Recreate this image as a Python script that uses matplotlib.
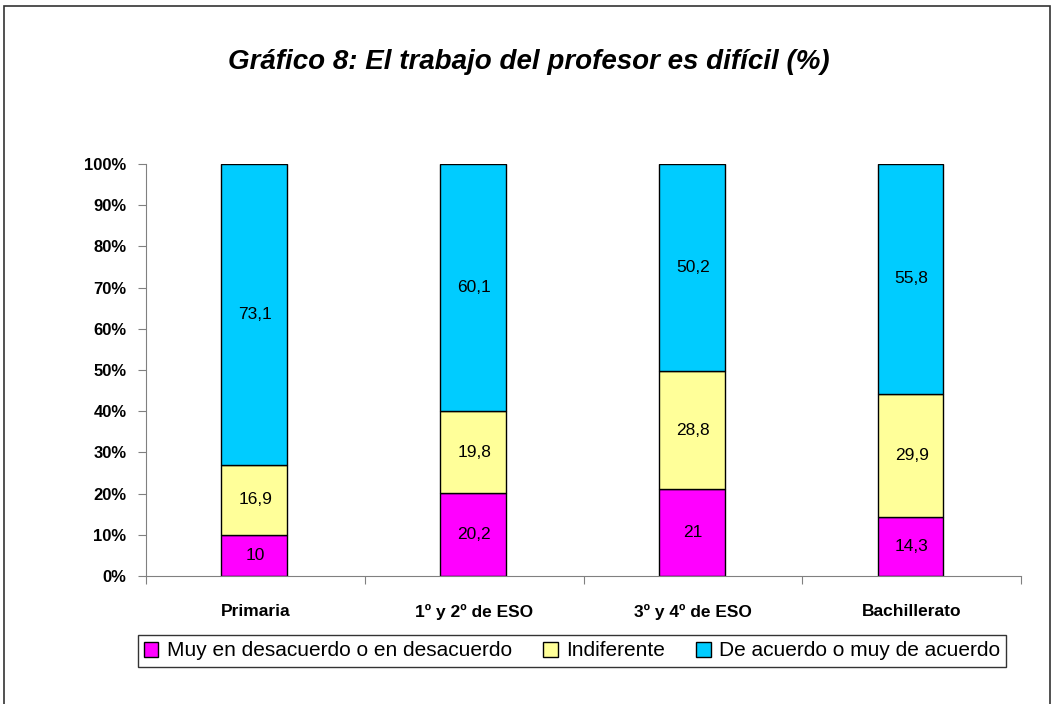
import numpy as np
import matplotlib.pyplot as plt
from matplotlib.patches import Rectangle

plt.rcParams['font.family'] = ['Liberation Sans', 'DejaVu Sans']

# data
categories = ['Primaria', '1º y 2º de ESO', '3º y 4º de ESO', 'Bachillerato']
series_names = ['Muy en desacuerdo o en desacuerdo', 'Indiferente',
                'De acuerdo o muy de acuerdo']
desacuerdo = [10, 20.2, 21, 14.3]
indiferente = [16.9, 19.8, 28.8, 29.9]
acuerdo = [73.1, 60.1, 50.2, 55.8]
labels = [['10', '20,2', '21', '14,3'],
          ['16,9', '19,8', '28,8', '29,9'],
          ['73,1', '60,1', '50,2', '55,8']]
colors = ['#FF00FF', '#FFFF99', '#00CCFF']

fig = plt.figure(figsize=(10.58, 7.04), dpi=100)
ax = fig.add_axes([146 / 1058, 1 - 576 / 704, 875 / 1058, 412 / 704])

# outer frame
fig.patches.append(Rectangle((4 / 1058, -0.01), 1046 / 1058, 1 - 6 / 704 + 0.01,
                             transform=fig.transFigure, fill=False,
                             edgecolor='#333333', linewidth=1.2))

series = np.array([desacuerdo, indiferente, acuerdo])
pct = series / series.sum(axis=0) * 100
x = np.arange(len(categories))
bottom = np.zeros(len(categories))
for i in range(3):
    ax.bar(x - 0.005, pct[i], 0.30, bottom=bottom, color=colors[i],
           edgecolor='black', linewidth=1, label=series_names[i])
    for j in range(len(categories)):
        ax.text(x[j], bottom[j] + pct[i][j] / 2, labels[i][j],
                ha='center', va='center', fontsize=12.5)
    bottom += pct[i]

ax.set_xlim(-0.5, len(categories) - 0.5)
ax.set_ylim(0, 100)
ax.set_yticks(np.arange(0, 101, 10))
ax.set_yticklabels([f'{v}%' for v in range(0, 101, 10)],
                   fontsize=12, fontweight='bold')
ax.set_xticks(np.arange(-0.5, len(categories), 1.0))
ax.set_xticklabels([])
ax.set_xticks(x, minor=True)
ax.set_xticklabels(categories, minor=True, fontsize=12.5, fontweight='bold')
ax.tick_params(axis='x', which='minor', length=0, pad=20)
ax.tick_params(axis='x', which='major', length=6, color='#808080', direction='out')
ax.tick_params(axis='y', length=6, color='#808080', direction='out', pad=8)
for s in ['top', 'right']:
    ax.spines[s].set_visible(False)
for s in ['left', 'bottom']:
    ax.spines[s].set_color('#808080')

fig.text(0.5, 1 - 62 / 704, 'Gráfico 8: El trabajo del profesor es difícil (%)',
         ha='center', va='center', fontsize=20, fontweight='bold',
         fontstyle='italic')

leg = fig.legend(loc='center', bbox_to_anchor=(572 / 1058, 1 - 651 / 704),
                 ncol=3, fontsize=15, frameon=True, fancybox=False,
                 edgecolor='black', handlelength=0.7, handleheight=0.7,
                 handletextpad=0.4, columnspacing=1.5, borderpad=0.3)
leg.get_frame().set_linewidth(1)

fig.savefig('out.png', dpi=100)
